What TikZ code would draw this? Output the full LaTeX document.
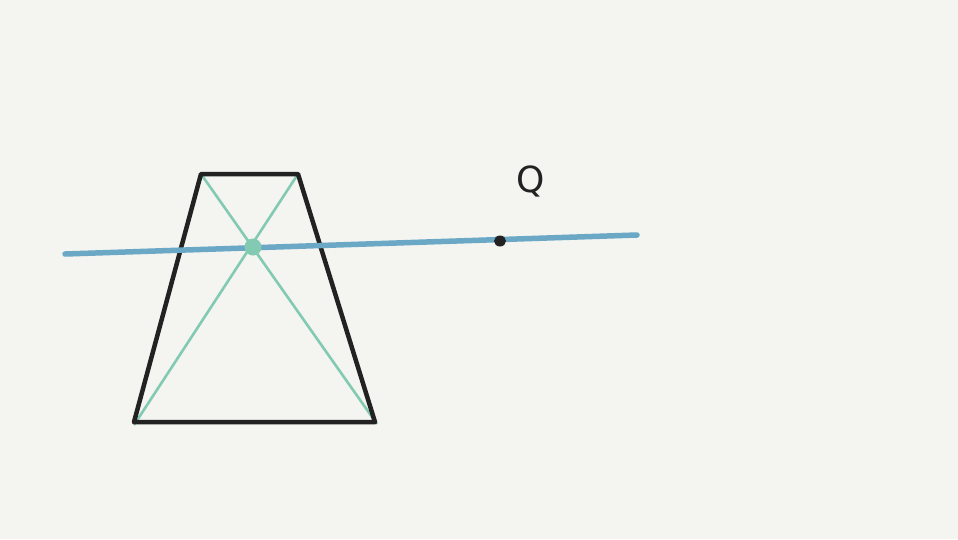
\documentclass[tikz,border=0pt]{standalone}
\usepackage{fontspec}
\setmainfont{DejaVu Sans}
\definecolor{bg}{HTML}{F4F4F0}
\definecolor{ink}{HTML}{222222}
\definecolor{diag}{HTML}{82CBB2}
\definecolor{axis}{HTML}{6BA8C6}
\begin{document}
\begin{tikzpicture}[x=1pt,y=-1pt,
  edge/.style={ink,line width=4.5pt,line join=round,line cap=round},
  diagline/.style={diag,line width=2.6pt},
  axisline/.style={axis,line width=5.5pt,line cap=round},
  lbl/.style={ink,font=\fontsize{36}{36}\selectfont}]
\fill[bg] (0,0) rectangle (958,539);
\useasboundingbox (0,0) rectangle (958,539);
\coordinate (TL) at (201,174);
\coordinate (TR) at (298,174);
\coordinate (BR) at (375,422);
\coordinate (BL) at (134,422);
\coordinate (L0) at (65,254);
\coordinate (L1) at (637,235);
\coordinate (Q) at (500,241);
\coordinate (D1) at (377,424);
\coordinate (D2) at (134,425);
\draw[diagline] (TL) -- (D1);
\draw[diagline] (TR) -- (D2);
\coordinate (X) at (253,247);
\draw[edge] (TL) -- (TR) -- (BR) -- (BL) -- cycle;
\draw[axisline] (L0) -- (L1);
\fill[diag] (X) circle (8.5);
\fill[ink] (Q) ellipse (6 and 5.5);
\node[lbl] (qlabel) at (531,181) {Q};
\end{tikzpicture}
\end{document}
